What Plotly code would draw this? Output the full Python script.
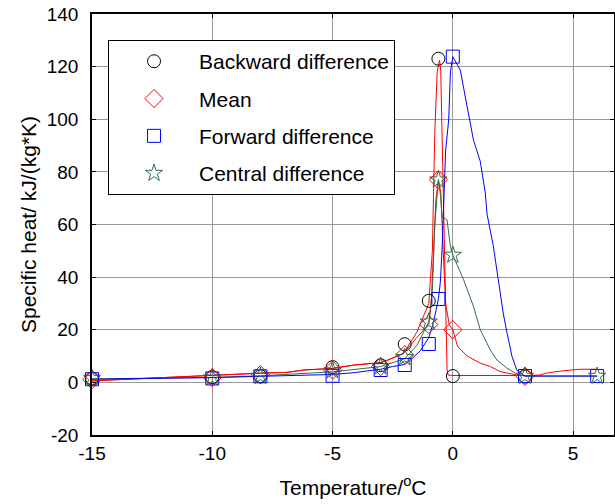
import plotly.graph_objects as go

# ---- marker data (temperature, specific heat) ----
T_markers = [-15, -10, -8, -5, -3, -2, -1, -0.6, 0, 3, 6]
backward_vals = [1.5, 2.0, 2.3, 5.8, 6.5, 14.5, 31.0, 123.0, 2.4, 2.2, None]
mean_vals = [1.0, 1.8, 2.9, 4.7, 6.0, 10.5, 22.0, 77.0, 20.0, 2.3, None]
forward_vals = [1.2, 1.5, 2.3, 2.5, 4.7, 6.6, 14.6, 31.7, 123.8, 2.4, 2.4]
central_vals = [1.5, 1.8, 2.4, 4.5, 6.0, 9.5, 23.0, 77.0, 48.4, 2.4, 2.4]

# ---- curve data ----
bw_line_T = [-15, -12.9, -10, -9.1, -8, -6.9, -6.2, -5, -4.1, -3, -2.7, -2.05, -1.5, -1.0,
             -0.85, -0.75, -0.65, -0.55, -0.5, -0.45, -0.38, -0.3, -0.24, -0.2, 0, 1, 2, 3]
bw_line_v = [0.6, 1.5, 2.6, 3.2, 3.5, 3.8, 4.7, 5.3, 6.6, 7.5, 8.5, 11.0, 19.0, 30.0,
             50.0, 95.0, 118.0, 122.5, 118.0, 95.0, 60.0, 25.0, 5.0, 2.8, 2.6, 2.6, 2.6, 2.6]

mean_line_T = [-15, -12.9, -10, -9.1, -8, -6.9, -6.2, -5, -4.1, -3, -2.7, -2.05, -1.5, -1.0,
               -0.9, -0.8, -0.7, -0.6, -0.5, -0.4, -0.3, -0.15, 0, 0.2, 0.6, 1.14, 1.56,
               1.97, 2.66, 3.0, 3.6, 3.9, 4.3, 4.9, 5.3, 6.0]
mean_line_v = [0.6, 1.5, 2.6, 3.2, 3.5, 3.8, 4.7, 5.3, 6.6, 7.5, 8.5, 11.0, 17.0, 22.0,
               30.0, 50.0, 70.0, 77.0, 72.0, 50.0, 30.0, 22.0, 20.0, 13.6, 10.0, 7.3, 6.0,
               4.1, 2.8, 2.5, 2.8, 3.5, 4.1, 4.7, 5.0, 5.0]

fw_line_T = [-15, -12, -10, -8, -6.9, -5, -4.1, -3, -2.5, -2, -1.76, -1.35, -1.0, -0.8,
             -0.6, -0.52, -0.45, -0.38, -0.3, -0.17, -0.1, 0, 0.31, 0.59, 0.86, 1.14,
             1.35, 1.42, 1.68, 1.89, 2.1, 2.25, 2.46, 2.66, 2.87, 3, 6]
fw_line_v = [1.2, 1.4, 1.8, 2.3, 2.6, 3.0, 3.7, 5.0, 6.0, 6.8, 8.5, 12.0, 17.0, 23.0,
             31.7, 38.0, 50.0, 70.0, 88.0, 100.0, 118.0, 123.8, 118.7, 105.0, 92.0, 84.0,
             72.0, 64.0, 52.0, 39.0, 26.0, 19.0, 9.8, 4.7, 3.2, 2.4, 2.4]

ct_line_T = [-15, -12, -10, -8, -5, -3, -2, -1.5, -1, -0.85, -0.75, -0.6, -0.5, -0.45,
             -0.24, -0.1, 0, 0.45, 0.86, 1.14, 1.35, 1.56, 1.83, 2.25, 2.6, 3, 6]
ct_line_v = [1.3, 1.5, 1.9, 2.5, 4.0, 6.0, 9.0, 14.0, 23.0, 35.0, 60.0, 77.0, 70.0, 63.0,
             61.7, 51.6, 48.4, 39.0, 28.8, 20.0, 16.0, 12.3, 8.5, 5.4, 3.5, 2.4, 2.4]

x_ticks = [-15, -10, -5, 0, 5]
y_ticks = [-20, 0, 20, 40, 60, 80, 100, 120, 140]

RED = "#ff0000"
BLUE = "#0000ff"
GREEN = "#2f6e48"
BLACK = "#000000"

FONT = "Liberation Sans, Arial, sans-serif"

fig = go.Figure()

# curves (no legend)
for xs, ys, col in [(bw_line_T, bw_line_v, RED), (mean_line_T, mean_line_v, RED),
                    (ct_line_T, ct_line_v, GREEN), (fw_line_T, fw_line_v, BLUE)]:
    fig.add_trace(go.Scatter(x=xs, y=ys, mode="lines", line=dict(color=col, width=1),
                             showlegend=False, hoverinfo="skip"))

# markers (legend)
specs = [
    ("Backward difference", backward_vals, "circle-open", BLACK, 13),
    ("Mean", mean_vals, "diamond-open", RED, 14),
    ("Forward difference", forward_vals, "square-open", BLUE, 13),
    ("Central difference", central_vals, "star-open", GREEN, 13),
]
for i, (name, vals, sym, col, sz) in enumerate(specs):
    fig.add_trace(go.Scatter(x=T_markers, y=vals, mode="markers", name=name,
                             legendgroup=f"g{i}", cliponaxis=False,
                             marker=dict(symbol=sym, size=sz, color=col,
                                         line=dict(color=col, width=1))))

axis_common = dict(showline=True, linecolor="black", linewidth=1.5, mirror="ticks",
                   ticks="inside", ticklen=4, tickcolor="black", tickwidth=1,
                   showgrid=True, gridcolor="#999999", gridwidth=1, zeroline=False,
                   automargin=False,
                   tickfont=dict(family=FONT, size=19, color="black"))

fig.update_xaxes(range=[-15, 6.7], tickvals=x_ticks, ticktext=[str(v) for v in x_ticks],
                 ticklabelstandoff=0,
                 title=dict(text="Temperature/<sup>o</sup>C", standoff=18,
                            font=dict(family=FONT, size=21, color="black")),
                 **axis_common)
fig.update_yaxes(range=[-20, 140], tickvals=y_ticks, ticktext=[str(v) for v in y_ticks],
                 ticklabelstandoff=8,
                 title=dict(text="Specific heat/ kJ/(kg*K)", standoff=4,
                            font=dict(family=FONT, size=21, color="black")),
                 **axis_common)

fig.update_layout(
    width=615, height=504,
    margin=dict(l=92, r=1, t=14, b=69),
    paper_bgcolor="white", plot_bgcolor="white",
    font=dict(family=FONT, size=19, color="black"),
    legend=dict(x=0.0307, y=0.938, xanchor="left", yanchor="top",
                bgcolor="white", bordercolor="black", borderwidth=1,
                font=dict(family=FONT, size=21, color="black"),
                itemwidth=80, tracegroupgap=7),
    showlegend=True,
)

# remove the page's default body margin so the figure fills the window exactly
fig.write_html("out.html", config={"displayModeBar": False},
               post_script="document.body.style.margin='0px';")
